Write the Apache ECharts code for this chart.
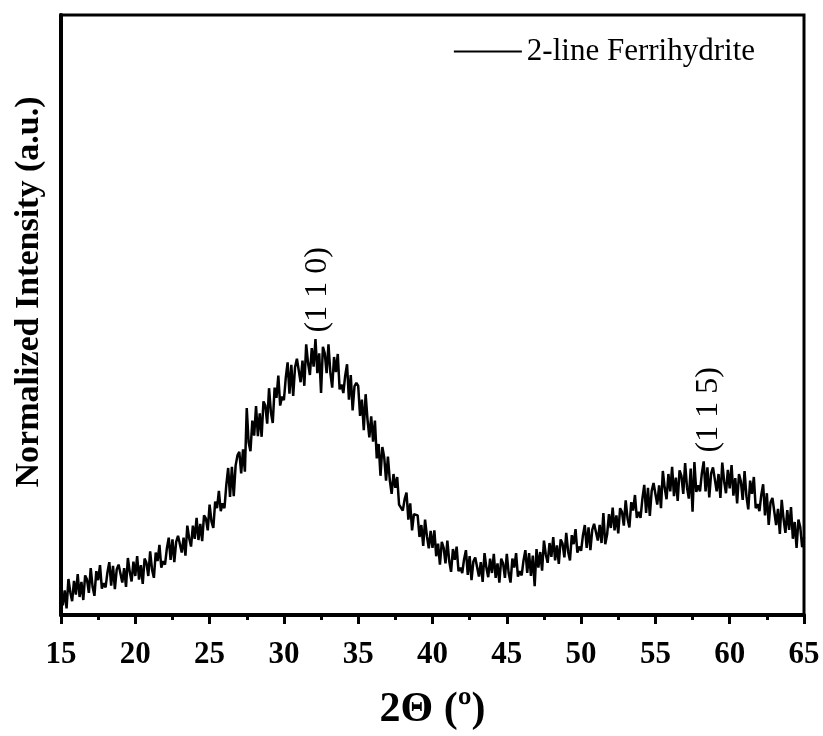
<!DOCTYPE html>
<html>

<head>
    <meta charset="utf-8" />
    <script src="https://cdn.jsdelivr.net/npm/echarts@6/dist/echarts.min.js"></script>
</head>

<body style="margin:0">
    <div id="main" style="width: 823px;height:736px;"></div>
    <script type="text/javascript">
        // 2theta grid: 15 to 65 in steps of 0.125
        const thetaStart = 15;
        const thetaStep = 0.125;
        // normalized intensity, 8 points per degree
        const intensity = [
            0.046, 0.016, 0.041, 0.011, 0.060, 0.038, 0.023, 0.057,  // 15
            0.034, 0.068, 0.030, 0.055, 0.025, 0.066, 0.059, 0.037,  // 16
            0.078, 0.047, 0.032, 0.073, 0.058, 0.083, 0.044, 0.053,  // 17
            0.046, 0.071, 0.088, 0.049, 0.082, 0.043, 0.076, 0.084,  // 18
            0.085, 0.054, 0.078, 0.047, 0.095, 0.072, 0.056, 0.089,  // 19
            0.065, 0.098, 0.059, 0.083, 0.052, 0.094, 0.087, 0.065,  // 20
            0.106, 0.076, 0.062, 0.104, 0.090, 0.117, 0.079, 0.090,  // 21
            0.084, 0.111, 0.129, 0.092, 0.126, 0.088, 0.122, 0.132,  // 22
            0.134, 0.104, 0.129, 0.099, 0.149, 0.128, 0.114, 0.149,  // 23
            0.127, 0.162, 0.125, 0.152, 0.123, 0.166, 0.161, 0.141,  // 24
            0.184, 0.156, 0.145, 0.189, 0.178, 0.207, 0.173, 0.186,  // 25
            0.178, 0.217, 0.245, 0.197, 0.247, 0.198, 0.249, 0.266,  // 26
            0.272, 0.236, 0.276, 0.239, 0.345, 0.288, 0.273, 0.324,  // 27
            0.299, 0.348, 0.298, 0.336, 0.297, 0.356, 0.349, 0.319,  // 28
            0.378, 0.338, 0.320, 0.379, 0.362, 0.399, 0.349, 0.364,  // 29
            0.358, 0.395, 0.421, 0.369, 0.417, 0.365, 0.413, 0.427,  // 30
            0.430, 0.388, 0.424, 0.382, 0.451, 0.420, 0.400, 0.445,  // 31
            0.414, 0.460, 0.403, 0.436, 0.370, 0.447, 0.436, 0.403,  // 32
            0.451, 0.404, 0.379, 0.430, 0.405, 0.435, 0.376, 0.384,  // 33
            0.370, 0.399, 0.418, 0.359, 0.400, 0.341, 0.381, 0.387,  // 34
            0.382, 0.332, 0.359, 0.308, 0.368, 0.326, 0.296, 0.331,  // 35
            0.289, 0.324, 0.261, 0.285, 0.232, 0.280, 0.263, 0.224,  // 36
            0.264, 0.225, 0.202, 0.235, 0.212, 0.230, 0.184, 0.187,  // 37
            0.174, 0.193, 0.204, 0.159, 0.186, 0.141, 0.168, 0.171,  // 38
            0.166, 0.130, 0.150, 0.115, 0.159, 0.131, 0.111, 0.140,  // 39
            0.112, 0.141, 0.098, 0.119, 0.084, 0.122, 0.112, 0.086,  // 40
            0.124, 0.090, 0.072, 0.110, 0.092, 0.114, 0.073, 0.079,  // 41
            0.070, 0.093, 0.108, 0.067, 0.098, 0.058, 0.089, 0.096,  // 42
            0.096, 0.064, 0.088, 0.055, 0.103, 0.079, 0.063, 0.094,  // 43
            0.070, 0.102, 0.062, 0.086, 0.054, 0.094, 0.086, 0.062,  // 44
            0.102, 0.070, 0.054, 0.094, 0.079, 0.103, 0.064, 0.073,  // 45
            0.066, 0.091, 0.108, 0.070, 0.103, 0.065, 0.099, 0.048,  // 46
            0.110, 0.079, 0.105, 0.074, 0.124, 0.101, 0.087, 0.120,  // 47
            0.097, 0.130, 0.091, 0.116, 0.085, 0.126, 0.119, 0.096,  // 48
            0.137, 0.106, 0.091, 0.133, 0.118, 0.143, 0.104, 0.114,  // 49
            0.107, 0.133, 0.150, 0.112, 0.146, 0.108, 0.142, 0.152,  // 50
            0.154, 0.124, 0.150, 0.120, 0.170, 0.118, 0.134, 0.168,  // 51
            0.145, 0.179, 0.141, 0.166, 0.136, 0.178, 0.172, 0.149,  // 52
            0.191, 0.161, 0.146, 0.188, 0.174, 0.200, 0.162, 0.172,  // 53
            0.162, 0.194, 0.217, 0.170, 0.212, 0.165, 0.207, 0.220,  // 54
            0.222, 0.184, 0.216, 0.178, 0.240, 0.212, 0.193, 0.235,  // 55
            0.206, 0.247, 0.198, 0.229, 0.190, 0.241, 0.232, 0.202,  // 56
            0.253, 0.213, 0.194, 0.244, 0.172, 0.255, 0.205, 0.216,  // 57
            0.206, 0.236, 0.256, 0.206, 0.246, 0.196, 0.236, 0.246,  // 58
            0.246, 0.206, 0.235, 0.195, 0.254, 0.223, 0.203, 0.242,  // 59
            0.211, 0.250, 0.199, 0.228, 0.186, 0.235, 0.223, 0.192,  // 60
            0.240, 0.198, 0.176, 0.224, 0.202, 0.230, 0.178, 0.185,  // 61
            0.173, 0.200, 0.218, 0.166, 0.203, 0.150, 0.188, 0.195,  // 62
            0.192, 0.150, 0.177, 0.135, 0.192, 0.160, 0.137, 0.175,  // 63
            0.142, 0.180, 0.127, 0.155, 0.112, 0.159, 0.146, 0.113,  // 64
            0.130                                                    // 65
        ];
        const xTicks = [15, 20, 25, 30, 35, 40, 45, 50, 55, 60, 65];
        const peakLabels = ['(1 1 0)', '(1 1 5)'];
        const peakPos = [[32.3, 0.542], [58.6, 0.342]];

        const seriesData = intensity.map((v, i) => [thetaStart + i * thetaStep, v]);
        const serif = '"Liberation Serif", "Times New Roman", serif';

        const myChart = echarts.init(document.getElementById('main'), null, { renderer: 'canvas' });
        const option = {
            animation: false,
            grid: {
                left: 61, right: 19, top: 15, bottom: 121,
                outerBoundsMode: 'none',
                show: true, borderColor: '#000', borderWidth: 3
            },
            legend: {
                right: 63, top: 31,
                icon: 'rect',
                itemWidth: 68, itemHeight: 2,
                textStyle: { fontFamily: serif, fontSize: 31, color: '#000' },
                data: ['2-line Ferrihydrite']
            },
            xAxis: {
                type: 'value', min: 15, max: 65, interval: 5,
                name: '2\u0398 (\u00ba)', nameLocation: 'middle', nameGap: 74,
                nameTextStyle: { fontFamily: serif, fontSize: 42, fontWeight: 'bold', color: '#000' },
                axisLine: { lineStyle: { color: '#000', width: 4 } },
                axisTick: { inside: false, length: 9, lineStyle: { width: 3, color: '#000' } },
                minorTick: { show: true, splitNumber: 2, length: 5, lineStyle: { width: 3, color: '#000' } },
                axisLabel: {
                    margin: 24, fontFamily: serif, fontSize: 31, fontWeight: 'bold', color: '#000',
                    formatter: v => xTicks.includes(v) ? String(v) : ''
                },
                splitLine: { show: false }
            },
            yAxis: {
                type: 'value', min: 0, max: 1,
                axisLine: { show: true, lineStyle: { color: '#000', width: 4 } },
                axisTick: { show: false },
                axisLabel: { show: false },
                splitLine: { show: false }
            },
            series: [{
                name: '2-line Ferrihydrite',
                type: 'line',
                symbol: 'none',
                data: seriesData,
                lineStyle: { color: '#000', width: 2.5 },
                itemStyle: { color: '#000' }
            }]
        };
        myChart.setOption(option);

        // y title and rotated peak annotations
        const labels = peakLabels.map((t, i) => {
            const p = myChart.convertToPixel({ gridIndex: 0 }, peakPos[i]);
            return {
                type: 'text', x: p[0], y: p[1], rotation: Math.PI / 2,
                style: {
                    text: t, fontFamily: serif, fontSize: 32, fill: '#000',
                    textAlign: 'center', textVerticalAlign: 'middle'
                }
            };
        });
        labels.push({
            type: 'text', x: 29, y: 292, rotation: Math.PI / 2,
            style: {
                text: 'Normalized Intensity (a.u.)', fontFamily: serif, fontSize: 34,
                fontWeight: 'bold', fill: '#000', textAlign: 'center', textVerticalAlign: 'middle'
            }
        });
        myChart.setOption({ graphic: labels });

        window.addEventListener('resize', myChart.resize);
    </script>
</body>

</html>
